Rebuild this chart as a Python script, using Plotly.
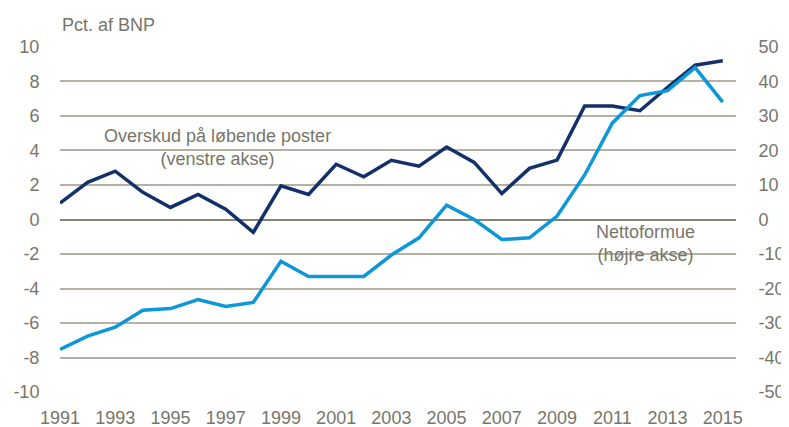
import plotly.graph_objects as go

years = list(range(1991, 2016))
overskud = [0.95, 2.15, 2.8, 1.57, 0.7, 1.45, 0.6, -0.75, 1.95, 1.45, 3.2, 2.47, 3.43,
            3.09, 4.2, 3.31, 1.5, 2.96, 3.44, 6.58, 6.57, 6.3, 7.66, 8.94, 9.19]
nettoformue = [-37.6, -33.8, -31.2, -26.3, -25.8, -23.2, -25.2, -24.0, -12.1, -16.5, -16.5,
               -16.5, -10.3, -5.3, 4.15, 0.0, -5.8, -5.3, 1.0, 12.9, 27.9, 35.9, 37.3, 44.0, 34.0]
left_ticks = [10, 8, 6, 4, 2, 0, -2, -4, -6, -8, -10]
right_ticks = [50, 40, 30, 20, 10, 0, -10, -20, -30, -40, -50]
x_ticks = list(range(1991, 2016, 2))

FONT = "Liberation Sans, Arial, sans-serif"
TXT = "#77756a"
GRID = "#b5b2a3"
CLEAR = "rgba(0,0,0,0)"

fig = go.Figure()
fig.add_trace(go.Scatter(x=years, y=overskud, mode="lines",
                         line=dict(color="#13306a", width=3.5), yaxis="y", showlegend=False))
fig.add_trace(go.Scatter(x=years, y=nettoformue, mode="lines",
                         line=dict(color="#0b97d8", width=3.5), yaxis="y2", showlegend=False))

fig.update_layout(
    width=781, height=419,
    margin=dict(l=52, r=53, t=38, b=34),
    plot_bgcolor="white", paper_bgcolor="white",
    font=dict(family=FONT, size=18, color=TXT),
    xaxis=dict(range=[1991, 2015.48], tickvals=x_ticks, ticktext=[str(v) for v in x_ticks],
               showgrid=False, zeroline=False, showline=False, automargin=False,
               ticks="outside", ticklen=8, tickcolor=CLEAR,
               tickfont=dict(size=18, color=TXT)),
    yaxis=dict(range=[-10.05, 10.05], tickvals=left_ticks, ticktext=[str(v) for v in left_ticks],
               showgrid=True, gridcolor=GRID, gridwidth=2,
               zeroline=True, zerolinecolor="#878472", zerolinewidth=2, automargin=False,
               ticks="outside", ticklen=16, tickcolor=CLEAR,
               tickfont=dict(size=18, color=TXT)),
    yaxis2=dict(range=[-50.25, 50.25], tickvals=right_ticks, ticktext=[str(v) for v in right_ticks],
                overlaying="y", side="right",
                showgrid=False, zeroline=False, automargin=False,
                ticks="outside", ticklen=18, tickcolor=CLEAR,
                tickfont=dict(size=18, color=TXT)),
    annotations=[
        dict(text="Pct. af BNP", xref="paper", yref="paper", x=0.0, y=1.0, yshift=9,
             xanchor="left", yanchor="bottom", showarrow=False, font=dict(size=18, color=TXT)),
        dict(text="Overskud på løbende poster<br>(venstre akse)", xref="x", yref="y",
             x=1996.7, y=4.15, xanchor="center", yanchor="middle", showarrow=False,
             font=dict(size=18, color=TXT)),
        dict(text="Nettoformue<br>(højre akse)", xref="x", yref="y",
             x=2012.2, y=-1.4, xanchor="center", yanchor="middle", showarrow=False,
             font=dict(size=18, color=TXT)),
    ],
)

fig.write_html("out.html")
